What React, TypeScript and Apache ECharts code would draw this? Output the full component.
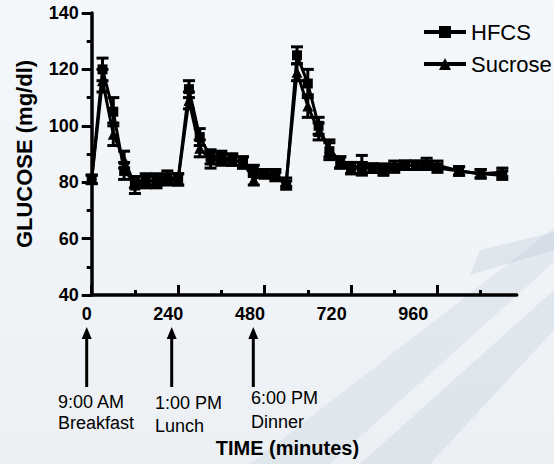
import React, { useEffect, useRef } from "react";
import * as echarts from "echarts";

const FONT = "'Liberation Sans', Arial, Helvetica, sans-serif";

const times = [0, 30, 60, 90, 120, 150, 180, 210, 240, 270, 300, 330, 360, 390, 420, 450, 480, 510, 540, 570, 600, 630, 660, 690, 720, 750, 780, 810, 840, 870, 900, 930, 960, 1020, 1080, 1140];
const hfcs = [81, 120, 105, 84, 80, 81, 80, 81, 81, 113, 96, 89, 89, 88, 87, 84, 83, 83, 79, 125, 115, 100, 91, 87, 85, 85, 85, 85, 85, 86, 86, 86, 85, 84, 83, 82.5];
const sucrose = [81, 116, 97, 88, 79, 80, 81, 82, 81, 109, 92, 88, 88, 88, 87, 81, 83, 82, 80, 119, 107, 98, 92, 87, 85, 86, 85, 84, 86, 86, 86, 87, 86, 84, 83, 83.5];
const hfcsErr = [1.5, 4, 5, 3, 2, 2, 2, 2, 2, 3, 3, 2.5, 2, 2, 2, 2, 1.5, 1.5, 1.5, 3, 5, 3, 3, 2, 2, 2, 1.5, 1.5, 1.5, 1.5, 1.5, 1.5, 1.5, 1.5, 1.5, 1.5];
const sucroseErr = [1.5, 4, 4, 3, 3, 2, 2, 2, 2, 3, 3, 3, 2, 2, 2, 2, 1.5, 1.5, 1.5, 3, 4, 3, 3, 2, 2, 3.5, 1.5, 1.5, 1.5, 1.5, 1.5, 1.5, 1.5, 1.5, 1.5, 1.5];

const majorTicks = [0, 240, 480, 720, 960];
const minorTicks = [120, 360, 600, 840, 1080];
const meals = [
  { time: "9:00 AM", meal: "Breakfast" },
  { time: "1:00 PM", meal: "Lunch" },
  { time: "6:00 PM", meal: "Dinner" },
];

const errRender = (params: any, api: any) => {
  const x = api.value(0);
  const lo = api.value(1);
  const hi = api.value(2);
  const pHi = api.coord([x, hi]);
  const pLo = api.coord([x, lo]);
  const w = 6;
  const style = { stroke: "#000", lineWidth: 3 };
  return {
    type: "group",
    children: [
      { type: "line", shape: { x1: pHi[0], y1: pHi[1], x2: pLo[0], y2: pLo[1] }, style },
      { type: "line", shape: { x1: pHi[0] - w, y1: pHi[1], x2: pHi[0] + w, y2: pHi[1] }, style },
      { type: "line", shape: { x1: pLo[0] - w, y1: pLo[1], x2: pLo[0] + w, y2: pLo[1] }, style },
    ],
  };
};

export default function App() {
  const ref = useRef<HTMLDivElement>(null);
  useEffect(() => {
    if (!ref.current) return;
    const chart = echarts.init(ref.current, undefined, { renderer: "svg" });
    const black = "#000";
    const arrowX = [86.7, 171.7, 253.3];
    const textX = [58, 155, 251];
    const textY1 = [402, 403, 398];
    const textY2 = [423, 426, 422];
    const graphics: any[] = [
      {
        type: "polygon",
        silent: true,
        z: -10,
        shape: { points: [[554, 228], [554, 262], [330, 464], [250, 464]] },
        style: { fill: "rgba(150,168,190,0.14)" },
      },
      {
        type: "polygon",
        silent: true,
        z: -10,
        shape: { points: [[554, 290], [554, 330], [430, 464], [360, 464]] },
        style: { fill: "rgba(150,168,190,0.16)" },
      },
      {
        type: "polygon",
        silent: true,
        z: -10,
        shape: { points: [[480, 250], [554, 232], [554, 250], [470, 275]] },
        style: { fill: "rgba(150,168,190,0.18)" },
      },
    ];
    meals.forEach((m, i) => {
      const x = arrowX[i];
      graphics.push({
        type: "line",
        shape: { x1: x, y1: 387, x2: x, y2: 336 },
        style: { stroke: black, lineWidth: 3 },
      });
      graphics.push({
        type: "polygon",
        shape: { points: [[x - 5, 339], [x + 5, 339], [x, 327]] },
        style: { fill: black },
      });
      graphics.push({
        type: "text",
        x: textX[i],
        y: textY1[i],
        style: { text: m.time, font: `18px ${FONT}`, fill: black, verticalAlign: "middle", align: "left" },
      });
      graphics.push({
        type: "text",
        x: textX[i],
        y: textY2[i],
        style: { text: m.meal, font: `18px ${FONT}`, fill: black, verticalAlign: "middle", align: "left" },
      });
    });

    const axisLine = { show: true, lineStyle: { color: black, width: 3.5 } };
    const option: any = {
      animation: false,
      backgroundColor: {
        type: "linear",
        x: 0, y: 0, x2: 0, y2: 1,
        colorStops: [
          { offset: 0, color: "#f5f8fb" },
          { offset: 1, color: "#ecf0f4" },
        ],
      },
      textStyle: { fontFamily: FONT },
      grid: [
        { left: 91.7, right: 37.3, top: 13, bottom: 169 },
        { left: 86.7, width: 401.4, top: 13, bottom: 169 },
      ],
      legend: {
        data: ["HFCS", "Sucrose"],
        orient: "vertical",
        left: 417,
        top: 16,
        itemWidth: 42,
        itemHeight: 15,
        itemGap: 10,
        lineStyle: { width: 4, color: black },
        textStyle: { fontSize: 22, color: black, fontFamily: FONT },
      },
      xAxis: [
        {
          gridIndex: 0, type: "value", min: 0, max: 1180, position: "bottom",
          axisLine,
          axisTick: { show: true, inside: true, length: 10, customValues: majorTicks, lineStyle: { color: black, width: 3 } },
          axisLabel: { show: false },
          splitLine: { show: false },
        },
        {
          gridIndex: 0, type: "value", min: 0, max: 1180, position: "bottom",
          axisLine: { show: false },
          axisTick: { show: true, inside: true, length: 5, customValues: minorTicks, lineStyle: { color: black, width: 3 } },
          axisLabel: { show: false },
          splitLine: { show: false },
        },
        {
          gridIndex: 1, type: "value", min: 0, max: 1180, position: "bottom",
          axisLine: { show: false },
          axisTick: { show: false },
          axisLabel: { show: true, customValues: majorTicks, fontSize: 18, fontWeight: "bold", color: black, margin: 10, fontFamily: FONT },
          splitLine: { show: false },
          name: "TIME (minutes)",
          nameLocation: "middle",
          nameGap: 143,
          nameTextStyle: { fontSize: 20, fontWeight: "bold", color: black, fontFamily: FONT },
        },
      ],
      yAxis: [
        {
          gridIndex: 0, type: "value", min: 40, max: 140, interval: 20,
          axisLine,
          axisTick: { show: true, inside: false, length: 10, lineStyle: { color: black, width: 3 } },
          minorTick: { show: true, splitNumber: 2, length: 5, lineStyle: { color: black, width: 3 } },
          axisLabel: { fontSize: 18, fontWeight: "bold", color: black, margin: 13, fontFamily: FONT },
          splitLine: { show: false },
          minorSplitLine: { show: false },
          name: "GLUCOSE (mg/dl)",
          nameLocation: "middle",
          nameGap: 56,
          nameRotate: 90,
          nameTextStyle: { fontSize: 22, fontWeight: "bold", color: black, fontFamily: FONT },
        },
        { gridIndex: 1, type: "value", min: 40, max: 140, show: false },
      ],
      series: [
        {
          name: "HFCS err", type: "custom", xAxisIndex: 0, yAxisIndex: 0, z: 2,
          data: times.map((t, i) => [t, hfcs[i] - hfcsErr[i], hfcs[i] + hfcsErr[i]]),
          encode: { x: 0, y: [1, 2] },
          renderItem: errRender,
        },
        {
          name: "Sucrose err", type: "custom", xAxisIndex: 0, yAxisIndex: 0, z: 2,
          data: times.map((t, i) => [t, sucrose[i] - sucroseErr[i], sucrose[i] + sucroseErr[i]]),
          encode: { x: 0, y: [1, 2] },
          renderItem: errRender,
        },
        {
          name: "HFCS", type: "line", xAxisIndex: 0, yAxisIndex: 0, z: 3,
          data: times.map((t, i) => [t, hfcs[i]]),
          symbol: "rect", symbolSize: 10,
          lineStyle: { color: black, width: 3 },
          itemStyle: { color: black },
        },
        {
          name: "Sucrose", type: "line", xAxisIndex: 0, yAxisIndex: 0, z: 3,
          data: times.map((t, i) => [t, sucrose[i]]),
          symbol: "triangle", symbolSize: 11,
          lineStyle: { color: black, width: 3 },
          itemStyle: { color: black },
        },
      ],
      graphic: graphics,
    };
    chart.setOption(option);
    return () => chart.dispose();
  }, []);
  return (
    <div
      ref={ref}
      style={{ position: "absolute", left: 0, top: 0, width: 554, height: 464 }}
    />
  );
}
